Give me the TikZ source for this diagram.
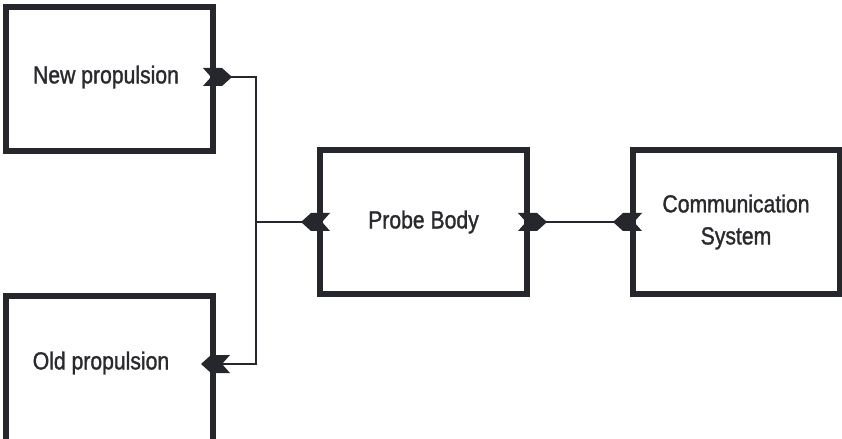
\documentclass[tikz,border=0pt]{standalone}
\usepackage{fontspec}
\setmainfont{Liberation Sans}[FakeStretch=0.86,FakeBold=1.3]
\begin{document}
\begin{tikzpicture}[x=0.025cm,y=-0.025cm]
\definecolor{ink}{HTML}{26272C}
\definecolor{txt}{HTML}{2A2A2E}
\tikzset{
  box/.style={draw=ink, line width=0.15cm, fill=white, inner sep=0pt,
    minimum width=207*0.025cm, minimum height=144*0.025cm,
    text=txt, font=\fontsize{17.5}{22.8}\selectfont, align=center},
  label/.style={inner sep=0pt, text=txt, font=\fontsize{17.5}{22.8}\selectfont, align=center},
  wire/.style={draw=ink, line width=0.07cm},
  plug/.pic={\fill[ink] (0,9) -- (19,9) -- (29,0) -- (19,-9) -- (0,-9) -- (8,0) -- cycle;}
}
\useasboundingbox (0,0) rectangle (842,439);
% boxes (centre lines)
\node[box] (new) at (109.5,79) {};
\node[box, minimum height=149*0.025cm] (old) at (109.5,370.5) {};
\node[box] (probe) at (423.5,222) {Probe Body};
\node[box] (comm) at (736,222) {Communication\\System};
% texts
\node[label] (newtxt) at (106,77) {New propulsion};
\node[label] (oldtxt) at (101,363) {Old propulsion};
% junction points
\coordinate (jtop) at (256,77);
\coordinate (jmid) at (256,222);
\coordinate (jbot) at (256,364);
% connectors
\draw[wire] (new.east |- jtop) -- (jtop) -- (jbot) -- (old.east |- jbot);
\draw[wire] (jmid) -- (probe.west);
\draw[wire] (probe.east) -- (comm.west);
% connector ends
\pic at (203,77) {plug};
\pic[xscale=-1] at (230,364) {plug};
\pic[xscale=-1] at (330,222) {plug};
\pic at (518,222) {plug};
\pic[xscale=-1] at (642,222) {plug};
\end{tikzpicture}
\end{document}
